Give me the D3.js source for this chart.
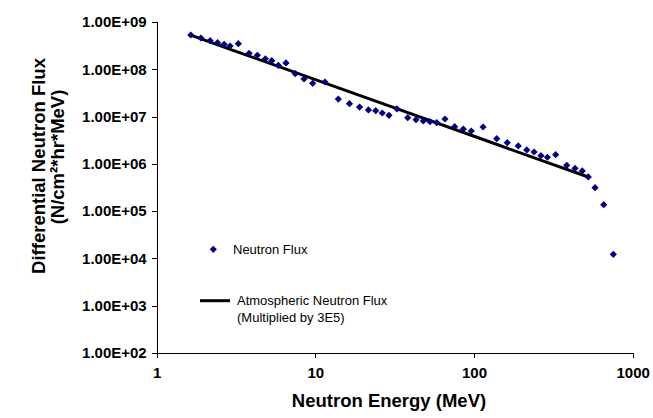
<!DOCTYPE html>
<html lang="en">
<head>
    <meta charset="UTF-8">
    <title>Differential Neutron Flux</title>
    <script src="https://cdn.jsdelivr.net/npm/d3@7"></script>
    <style>
        body { margin: 0; background: #fff; }
        svg { font-family: "Liberation Sans", Arial, sans-serif; }
        .axis path, .axis line { stroke: #000; stroke-width: 1px; shape-rendering: crispEdges; }
        .axis text { font-weight: bold; font-size: 15px; fill: #000; }
        .title { font-weight: bold; fill: #000; }
        .legend text { font-size: 13px; fill: #000; }
    </style>
</head>
<body>
    <svg width="653" height="418"></svg>

    <script>
        // measured neutron flux (MeV, N/cm2*hr*MeV)
        const energy = [1.64, 1.90, 2.17, 2.42, 2.66, 2.90, 3.27, 3.82, 4.31, 4.84,
                        5.31, 5.84, 6.53, 7.47, 8.48, 9.62, 11.5, 13.95, 16.4, 19.0,
                        21.6, 24.0, 26.4, 29.1, 32.7, 38.2, 43.1, 47.9, 52.8, 58.2,
                        65.6, 75.5, 85.6, 96.1, 114, 139, 162, 190, 215, 239,
                        264, 290, 327, 384, 433, 481, 525, 579, 657, 755];
        const flux = [5.31e8, 4.59e8, 4.02e8, 3.65e8, 3.38e8, 3.11e8, 3.48e8, 2.18e8, 1.98e8, 1.67e8,
                      1.52e8, 1.21e8, 1.36e8, 8.07e7, 6.23e7, 5.05e7, 5.38e7, 2.35e7, 1.87e7, 1.59e7,
                      1.38e7, 1.33e7, 1.19e7, 1.06e7, 1.45e7, 9.47e6, 8.59e6, 8.06e6, 7.80e6, 7.43e6,
                      8.89e6, 6.11e6, 5.46e6, 4.95e6, 6.02e6, 3.41e6, 2.80e6, 2.39e6, 1.97e6, 1.78e6,
                      1.49e6, 1.38e6, 1.56e6, 9.33e5, 8.06e5, 7.07e5, 5.28e5, 3.13e5, 1.37e5, 1.22e4];

        // atmospheric neutron flux x 3E5
        const atmoEnergy = [1.64, 3, 10, 30, 100, 300, 525];
        const atmoFlux = [5.3e8, 2.55e8, 6.03e7, 1.62e7, 3.83e6, 1.02e6, 5.28e5];

        const xTicks = [1, 10, 100, 1000];
        const yTicks = [1e2, 1e3, 1e4, 1e5, 1e6, 1e7, 1e8, 1e9];
        const yTickLabels = ["1.00E+02", "1.00E+03", "1.00E+04", "1.00E+05",
                             "1.00E+06", "1.00E+07", "1.00E+08", "1.00E+09"];

        const svg = d3.select("svg");
        const x = d3.scaleLog().domain([1, 1000]).range([156.7, 632.7]);
        const y = d3.scaleLog().domain([1e2, 1e9]).range([353, 22]);

        svg.append("g")
            .attr("class", "axis")
            .attr("transform", "translate(0,353)")
            .call(d3.axisBottom(x).tickValues(xTicks).tickFormat(d3.format("d")).tickSizeOuter(0).tickSize(5).tickPadding(9));

        svg.append("g")
            .attr("class", "axis")
            .attr("transform", "translate(156.7,0)")
            .call(d3.axisLeft(y).tickValues(yTicks).tickFormat((d, i) => yTickLabels[i]).tickSizeOuter(0).tickSize(5).tickPadding(5));

        // atmospheric line
        const line = d3.line().x(d => x(d[0])).y(d => y(d[1]));
        svg.append("path")
            .datum(atmoEnergy.map((e, i) => [e, atmoFlux[i]]))
            .attr("d", line)
            .attr("fill", "none")
            .attr("stroke", "#000")
            .attr("stroke-width", 3);

        // data points as diamonds
        const diamond = d3.symbol(d3.symbolSquare, 26);
        svg.append("g")
            .selectAll("path")
            .data(energy.map((e, i) => [e, flux[i]]))
            .enter()
            .append("path")
            .attr("d", diamond)
            .attr("transform", d => `translate(${x(d[0])},${y(d[1])}) rotate(45)`)
            .attr("fill", "#000080");

        // axis titles
        svg.append("text")
            .attr("class", "title")
            .attr("x", 389)
            .attr("y", 407)
            .attr("text-anchor", "middle")
            .attr("font-size", 18.5)
            .text("Neutron Energy (MeV)");

        svg.append("text")
            .attr("class", "title")
            .attr("transform", "translate(45,166) rotate(-90)")
            .attr("text-anchor", "middle")
            .attr("font-size", 18.5)
            .text("Differential Neutron Flux");

        svg.append("text")
            .attr("class", "title")
            .attr("transform", "translate(64,157) rotate(-90)")
            .attr("text-anchor", "middle")
            .attr("font-size", 18.5)
            .text("(N/cm²*hr*MeV)");

        // legend
        const legend = svg.append("g").attr("class", "legend");
        legend.append("path")
            .attr("d", diamond)
            .attr("transform", "translate(213.3,249.3) rotate(45)")
            .attr("fill", "#000080");
        legend.append("text").attr("x", 233).attr("y", 253.5).text("Neutron Flux");
        legend.append("line")
            .attr("x1", 200).attr("x2", 230)
            .attr("y1", 300.7).attr("y2", 300.7)
            .attr("stroke", "#000").attr("stroke-width", 3);
        legend.append("text").attr("x", 237).attr("y", 305).text("Atmospheric Neutron Flux");
        legend.append("text").attr("x", 237).attr("y", 321.5).text("(Multiplied by 3E5)");
    </script>
</body>
</html>
